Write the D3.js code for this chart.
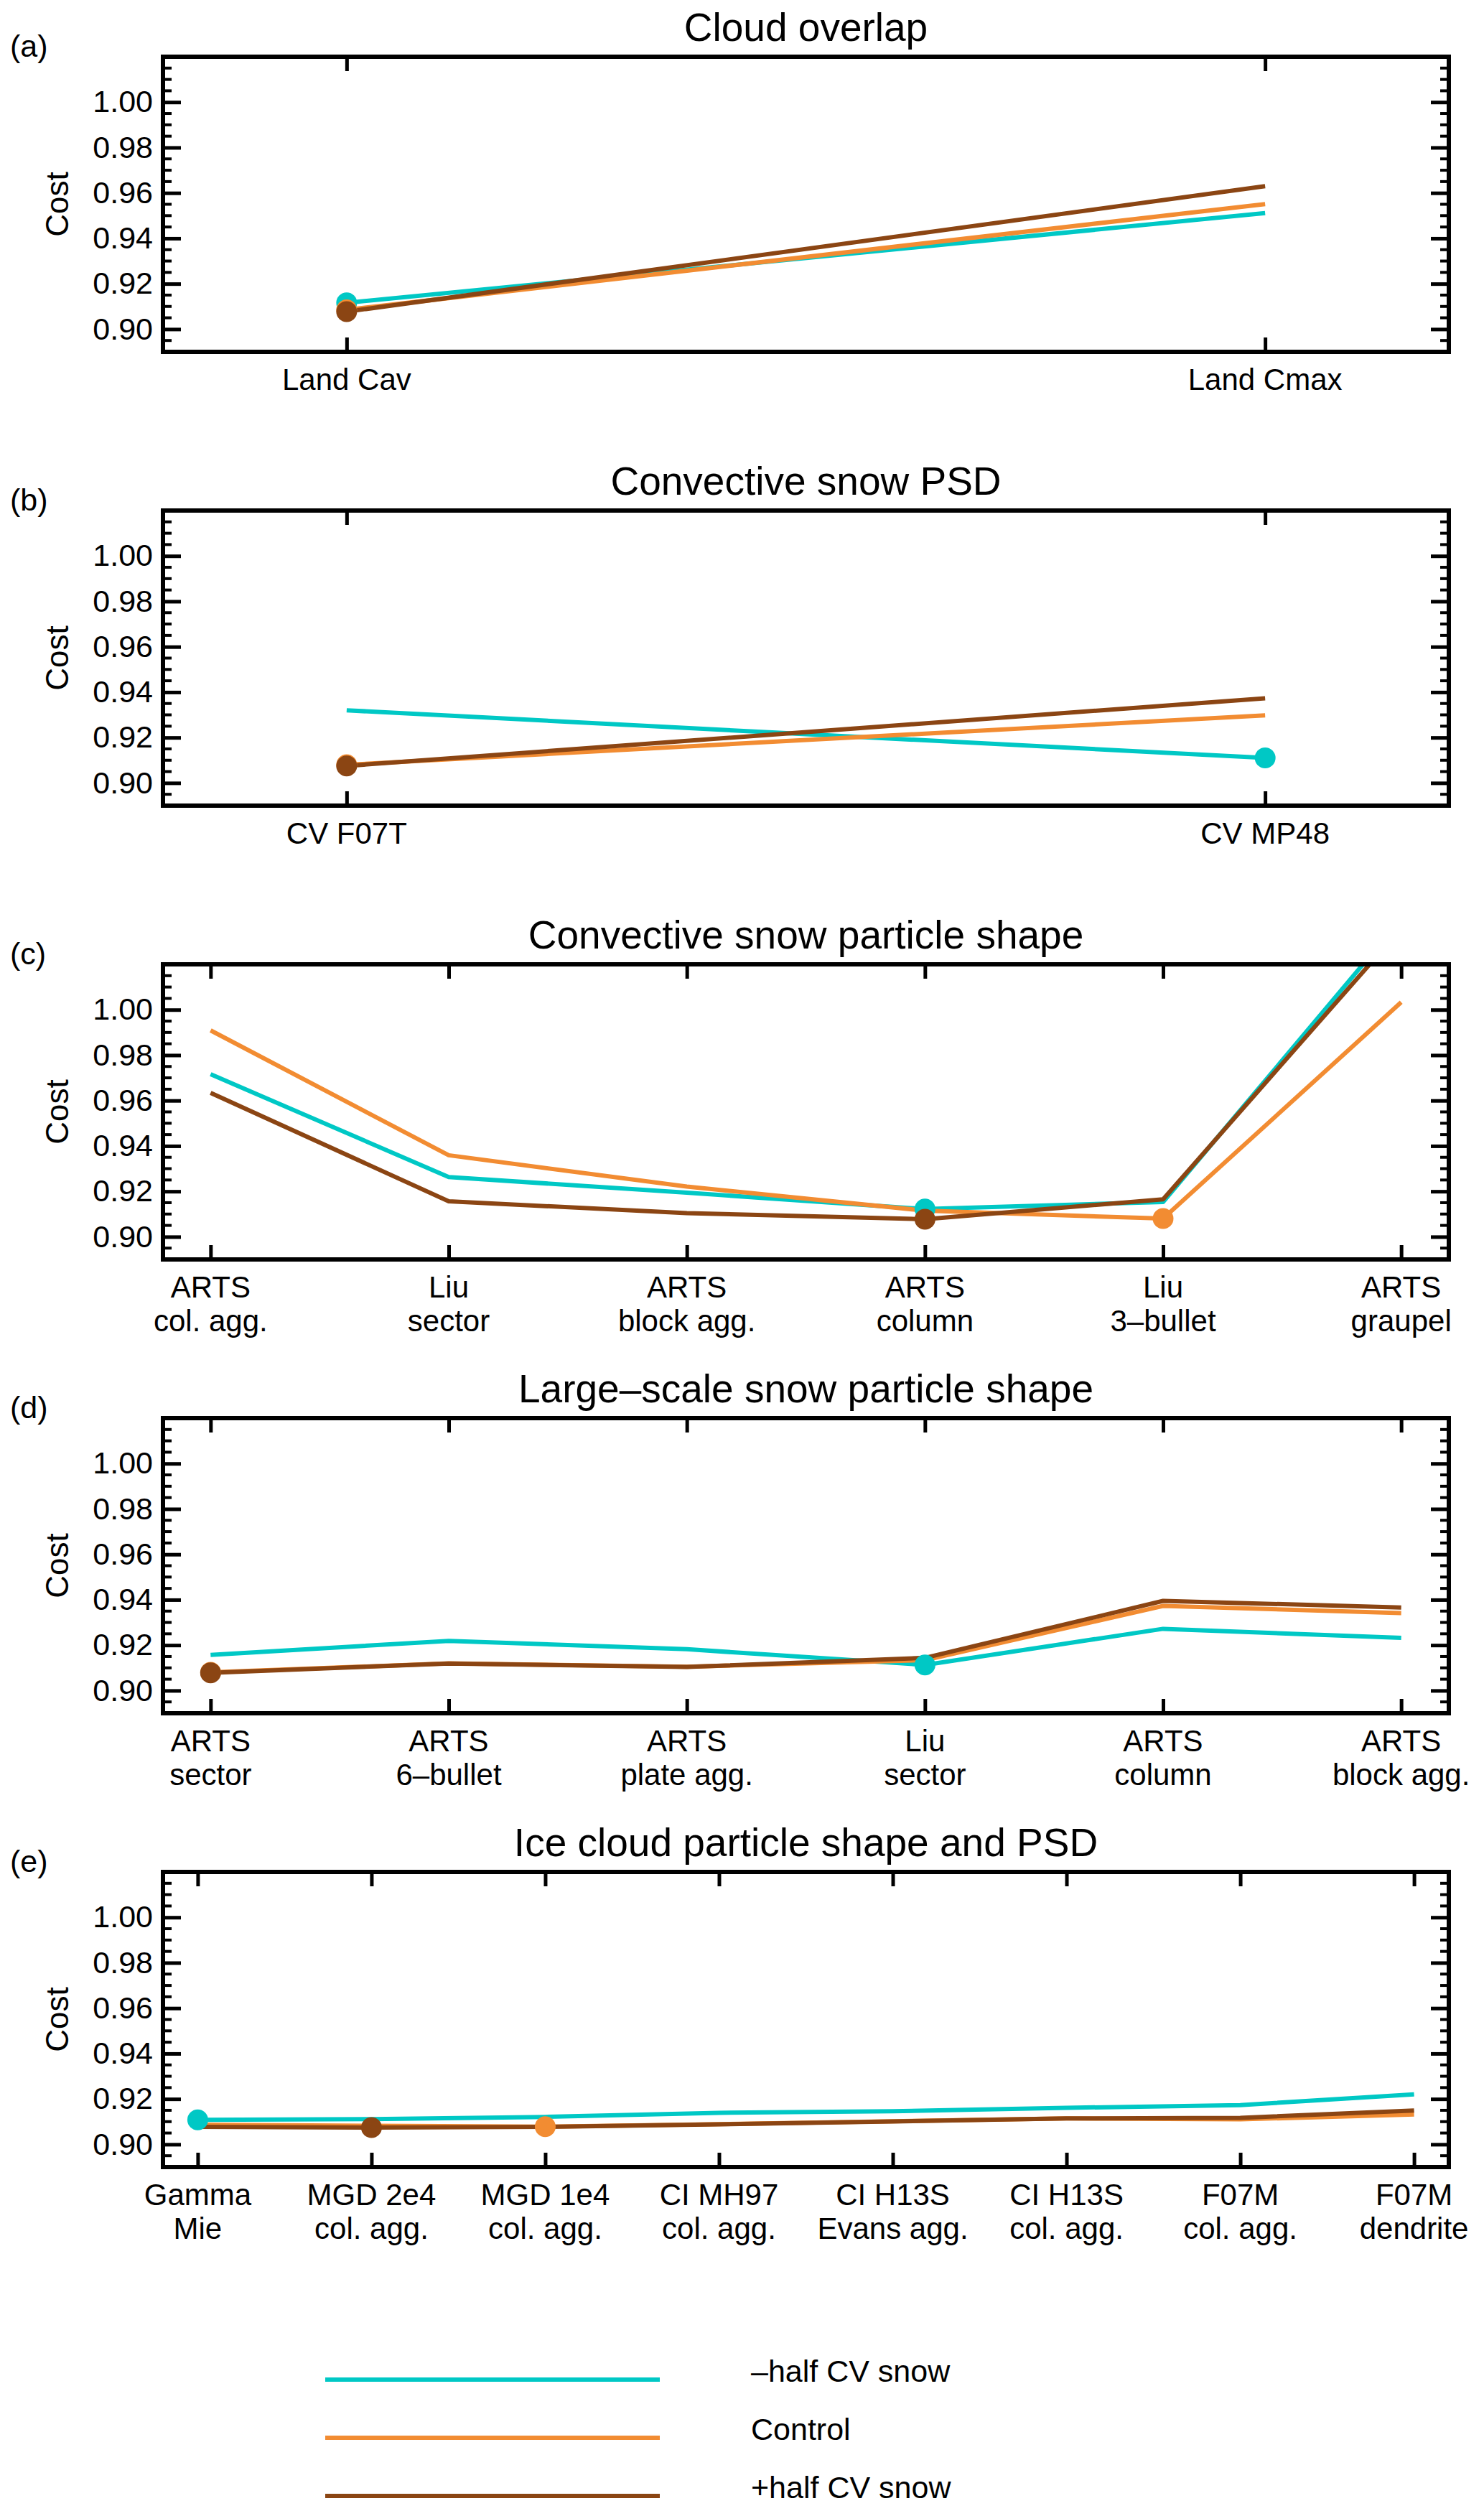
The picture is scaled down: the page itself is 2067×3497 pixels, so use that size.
<!DOCTYPE html>
<html>
<head>
<meta charset="utf-8">
<script src="https://cdn.jsdelivr.net/npm/d3@7"></script>
<style>
  body { margin: 0; background: #fff; }
  text { font-family: "Liberation Sans", Arial, Helvetica, sans-serif; fill: #000; }
</style>
</head>
<body>
<div id="chart"></div>
<script>
// series shown in every panel
const seriesNames = ["–half CV snow", "Control", "+half CV snow"];
const seriesColors = ["#00c8c5", "#f28c32", "#8b4513"];

// (a) cloud overlap
const overlapCats = ["Land Cav", "Land Cmax"];
const overlapMinus = [0.9116, 0.9511];
const overlapControl = [0.9085, 0.9551];
const overlapPlus = [0.9077, 0.9630];

// (b) convective snow PSD
const cvPsdCats = ["CV F07T", "CV MP48"];
const cvPsdMinus = [0.9320, 0.9110];
const cvPsdControl = [0.9080, 0.9298];
const cvPsdPlus = [0.9075, 0.9373];

// (c) convective snow particle shape
const cvShapeCats = ["ARTS\ncol. agg.", "Liu\nsector", "ARTS\nblock agg.", "ARTS\ncolumn", "Liu\n3–bullet", "ARTS\ngraupel"];
const cvShapeMinus = [0.9716, 0.9263, 0.9194, 0.9122, 0.9153, 1.0400];
const cvShapeControl = [0.9909, 0.9359, 0.9221, 0.9115, 0.9080, 1.0033];
const cvShapePlus = [0.9634, 0.9156, 0.9104, 0.9077, 0.9165, 1.0358];

// (d) large-scale snow particle shape
const lsShapeCats = ["ARTS\nsector", "ARTS\n6–bullet", "ARTS\nplate agg.", "Liu\nsector", "ARTS\ncolumn", "ARTS\nblock agg."];
const lsShapeMinus = [0.9157, 0.9219, 0.9182, 0.9113, 0.9272, 0.9232];
const lsShapeControl = [0.9080, 0.9120, 0.9105, 0.9134, 0.9373, 0.9341];
const lsShapePlus = [0.9078, 0.9119, 0.9104, 0.9144, 0.9395, 0.9366];

// (e) ice cloud particle shape and PSD
const iceCats = ["Gamma\nMie", "MGD 2e4\ncol. agg.", "MGD 1e4\ncol. agg.", "CI MH97\ncol. agg.", "CI H13S\nEvans agg.", "CI H13S\ncol. agg.", "F07M\ncol. agg.", "F07M\ndendrite"];
const iceMinus = [0.9108, 0.9111, 0.9121, 0.9139, 0.9146, 0.9161, 0.9173, 0.9220];
const iceControl = [0.9087, 0.9082, 0.9078, 0.9089, 0.9102, 0.9114, 0.9110, 0.9132];
const icePlus = [0.9077, 0.9074, 0.9077, 0.9088, 0.9101, 0.9114, 0.9117, 0.9149];

const yMajor = [0.90, 0.92, 0.94, 0.96, 0.98, 1.00];
const yDomain = [0.89, 1.02];

const panels = [
  { tag: "(a)", title: "Cloud overlap", cats: overlapCats, series: [overlapMinus, overlapControl, overlapPlus] },
  { tag: "(b)", title: "Convective snow PSD", cats: cvPsdCats, series: [cvPsdMinus, cvPsdControl, cvPsdPlus] },
  { tag: "(c)", title: "Convective snow particle shape", cats: cvShapeCats, series: [cvShapeMinus, cvShapeControl, cvShapePlus] },
  { tag: "(d)", title: "Large–scale snow particle shape", cats: lsShapeCats, series: [lsShapeMinus, lsShapeControl, lsShapePlus] },
  { tag: "(e)", title: "Ice cloud particle shape and PSD", cats: iceCats, series: [iceMinus, iceControl, icePlus] }
];

const W = 2067, H = 3497;
const boxLeft = 227, boxW = 1791, boxH = 411;
const firstTop = 79, panelStep = 632;

const svg = d3.select("#chart").append("svg")
  .attr("width", W)
  .attr("height", H)
  .style("background", "#fff");

const y = d3.scaleLinear().domain(yDomain).range([boxH, 0]);
const minorTicks = d3.range(0, 27).map(i => 0.89 + i * 0.005)
  .filter(v => v > 0.8901 && v < 1.0199)
  .filter(v => !yMajor.some(m => Math.abs(m - v) < 1e-6));

panels.forEach((p, pi) => {
  const top = firstTop + pi * panelStep;
  const g = svg.append("g").attr("transform", `translate(${boxLeft},${top})`);

  const x = d3.scalePoint().domain(d3.range(p.cats.length)).range([0, boxW]).padding(0.2);

  g.append("clipPath").attr("id", "clip" + pi)
    .append("rect").attr("width", boxW).attr("height", boxH);

  // title and panel tag
  g.append("text")
    .attr("x", boxW / 2).attr("y", -22)
    .attr("text-anchor", "middle")
    .style("font-size", "55px")
    .text(p.title);

  svg.append("text")
    .attr("x", 14).attr("y", top)
    .style("font-size", "43px")
    .text(p.tag);

  // y axis label
  g.append("text")
    .attr("transform", `translate(${95 - boxLeft},${boxH / 2}) rotate(-90)`)
    .attr("text-anchor", "middle")
    .style("font-size", "44px")
    .text("Cost");

  // left axis with inward ticks
  const left = g.append("g")
    .call(d3.axisLeft(y).tickValues(yMajor).tickSize(-25).tickPadding(14).tickFormat(d3.format(".2f")));
  left.select(".domain").remove();
  left.selectAll("line").attr("stroke", "#000").attr("stroke-width", 5);
  left.selectAll("text").style("font-size", "43px").attr("font-family", null);

  const right = g.append("g").attr("transform", `translate(${boxW},0)`)
    .call(d3.axisRight(y).tickValues(yMajor).tickSize(-25).tickFormat(""));
  right.select(".domain").remove();
  right.selectAll("line").attr("stroke", "#000").attr("stroke-width", 5);

  // minor ticks both sides
  g.append("g").selectAll("line").data(minorTicks)
    .join("line")
    .attr("x1", 0).attr("x2", 12)
    .attr("y1", d => y(d)).attr("y2", d => y(d))
    .attr("stroke", "#000").attr("stroke-width", 4);
  g.append("g").selectAll("line").data(minorTicks)
    .join("line")
    .attr("x1", boxW).attr("x2", boxW - 12)
    .attr("y1", d => y(d)).attr("y2", d => y(d))
    .attr("stroke", "#000").attr("stroke-width", 4);

  // category ticks on bottom and top
  const bottom = g.append("g").attr("transform", `translate(0,${boxH})`)
    .call(d3.axisBottom(x).tickSize(-20).tickFormat(""));
  bottom.select(".domain").remove();
  bottom.selectAll("line").attr("stroke", "#000").attr("stroke-width", 5);
  const topAxis = g.append("g")
    .call(d3.axisTop(x).tickSize(-20).tickFormat(""));
  topAxis.select(".domain").remove();
  topAxis.selectAll("line").attr("stroke", "#000").attr("stroke-width", 5);

  // category labels, one or two lines
  const labels = g.append("g").selectAll("text").data(p.cats)
    .join("text")
    .attr("x", (d, i) => x(i))
    .attr("y", boxH + 53)
    .attr("text-anchor", "middle")
    .style("font-size", "42px");
  labels.each(function(d) {
    const t = d3.select(this);
    d.split("\n").forEach((line, li) => {
      t.append("tspan").attr("x", t.attr("x")).attr("dy", li === 0 ? 0 : 47).text(line);
    });
  });

  // series lines
  const line = d3.line().x((d, i) => x(i)).y(d => y(d));
  const lines = g.append("g").attr("clip-path", `url(#clip${pi})`);
  p.series.forEach((vals, si) => {
    lines.append("path")
      .datum(vals)
      .attr("d", line)
      .attr("fill", "none")
      .attr("stroke", seriesColors[si])
      .attr("stroke-width", 6)
      .attr("stroke-linejoin", "round");
  });

  // marker at each series minimum
  p.series.forEach((vals, si) => {
    const mi = d3.minIndex(vals);
    g.append("circle")
      .attr("cx", x(mi)).attr("cy", y(vals[mi]))
      .attr("r", 14.5)
      .attr("fill", seriesColors[si]);
  });

  // box
  g.append("rect")
    .attr("width", boxW).attr("height", boxH)
    .attr("fill", "none")
    .attr("stroke", "#000")
    .attr("stroke-width", 6);
});

// legend
const legendY = [3314, 3395, 3476];
const legend = svg.append("g");
seriesNames.forEach((name, i) => {
  legend.append("line")
    .attr("x1", 453).attr("x2", 919)
    .attr("y1", legendY[i]).attr("y2", legendY[i])
    .attr("stroke", seriesColors[i])
    .attr("stroke-width", 6);
  legend.append("text")
    .attr("x", 1046).attr("y", legendY[i] + 3)
    .style("font-size", "43px")
    .text(name);
});
</script>
</body>
</html>
